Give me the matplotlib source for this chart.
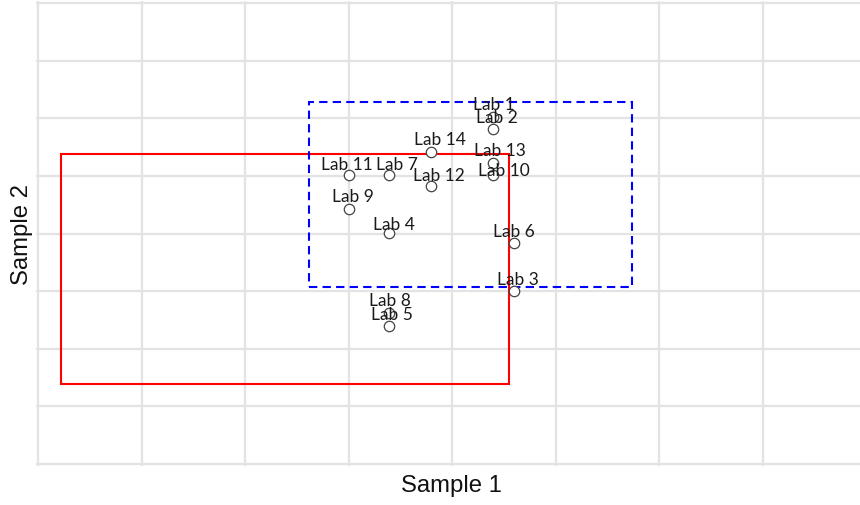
import matplotlib
matplotlib.use("Agg")
import matplotlib.pyplot as plt
from matplotlib.patches import Rectangle

# ---- data (arbitrary units: one grid cell = 1) ----
labs = ["Lab 1", "Lab 2", "Lab 3", "Lab 4", "Lab 5", "Lab 6", "Lab 7",
        "Lab 8", "Lab 9", "Lab 10", "Lab 11", "Lab 12", "Lab 13", "Lab 14"]
sample1 = [4.40, 4.40, 4.60, 3.39, 3.39, 4.60, 3.39,
           3.39, 3.00, 4.40, 3.00, 3.80, 4.40, 3.80]
sample2 = [6.02, 5.82, 3.00, 4.01, 2.40, 3.83, 5.01,
           2.63, 4.42, 5.01, 5.01, 4.82, 5.23, 5.41]

# rectangles: (x0, y0, x1, y1)
blue_box = (2.62, 3.07, 5.74, 6.28)
red_box = (0.22, 1.39, 4.55, 5.38)

x_grid = list(range(0, 8))
y_grid = list(range(0, 9))

# label offsets in pixels (dx, dy of text centre above the point)
label_offsets = {
    "Lab 1": (0, 15), "Lab 2": (3.5, 13), "Lab 3": (3.5, 14), "Lab 4": (5, 11),
    "Lab 5": (3.5, 13), "Lab 6": (0, 14), "Lab 7": (8, 13), "Lab 8": (1, 14),
    "Lab 9": (4.5, 15), "Lab 10": (10.5, 7), "Lab 11": (-1.5, 13),
    "Lab 12": (8, 13), "Lab 13": (7, 14), "Lab 14": (8.5, 15),
}

W, H = 860, 506
fig = plt.figure(figsize=(W / 100, H / 100), dpi=100)

xpx, ypx = 103.5, 57.6  # pixels per unit
xmin, xmax = -0.02, (W - 38) / xpx
ymin, ymax = -0.03, 8.03
left = (38 + xmin * xpx) / W
bottom_px = 465 - ymin * ypx
top_px = 465 - ymax * ypx
ax = fig.add_axes([left, (H - bottom_px) / H, 1 - left, (bottom_px - top_px) / H])
ax.set_xlim(xmin, xmax)
ax.set_ylim(ymin, ymax)
for s in ax.spines.values():
    s.set_visible(False)
ax.set_xticks(x_grid)
ax.set_yticks(y_grid)
ax.tick_params(length=0, labelbottom=False, labelleft=False)
ax.grid(True, color="#e3e3e3", linewidth=1.6)
ax.set_axisbelow(True)

ax.add_patch(Rectangle((red_box[0], red_box[1]), red_box[2] - red_box[0],
                       red_box[3] - red_box[1], fill=False, edgecolor="#ff0000",
                       linewidth=1.5, zorder=2))
ax.add_patch(Rectangle((blue_box[0], blue_box[1]), blue_box[2] - blue_box[0],
                       blue_box[3] - blue_box[1], fill=False, edgecolor="#0000ff",
                       linewidth=1.5, linestyle=(0, (4, 2.5)), zorder=2))

ax.plot(sample1, sample2, linestyle="none", marker="o", markersize=7.5,
        markerfacecolor="white", markeredgecolor="#444444", markeredgewidth=0.9,
        zorder=3)

for lab, x, y in zip(labs, sample1, sample2):
    dx, dy = label_offsets[lab]
    ax.annotate(lab, (x, y), xytext=(dx * 0.72, (dy - 6.5) * 0.72),
                textcoords="offset points", ha="center", va="baseline",
                fontsize=12.5, family="Lato", color="#1a1a1a", zorder=4)

fig.text(451 / W, 1 - 486 / H, "Sample 1", ha="center", va="center",
         fontsize=17.2, family="Liberation Sans", color="#111111")
fig.text(22 / W, 1 - 235 / H, "Sample 2", ha="center", va="center",
         rotation=90, fontsize=17.2, family="Liberation Sans", color="#111111")

fig.savefig("out.png", dpi=100)
